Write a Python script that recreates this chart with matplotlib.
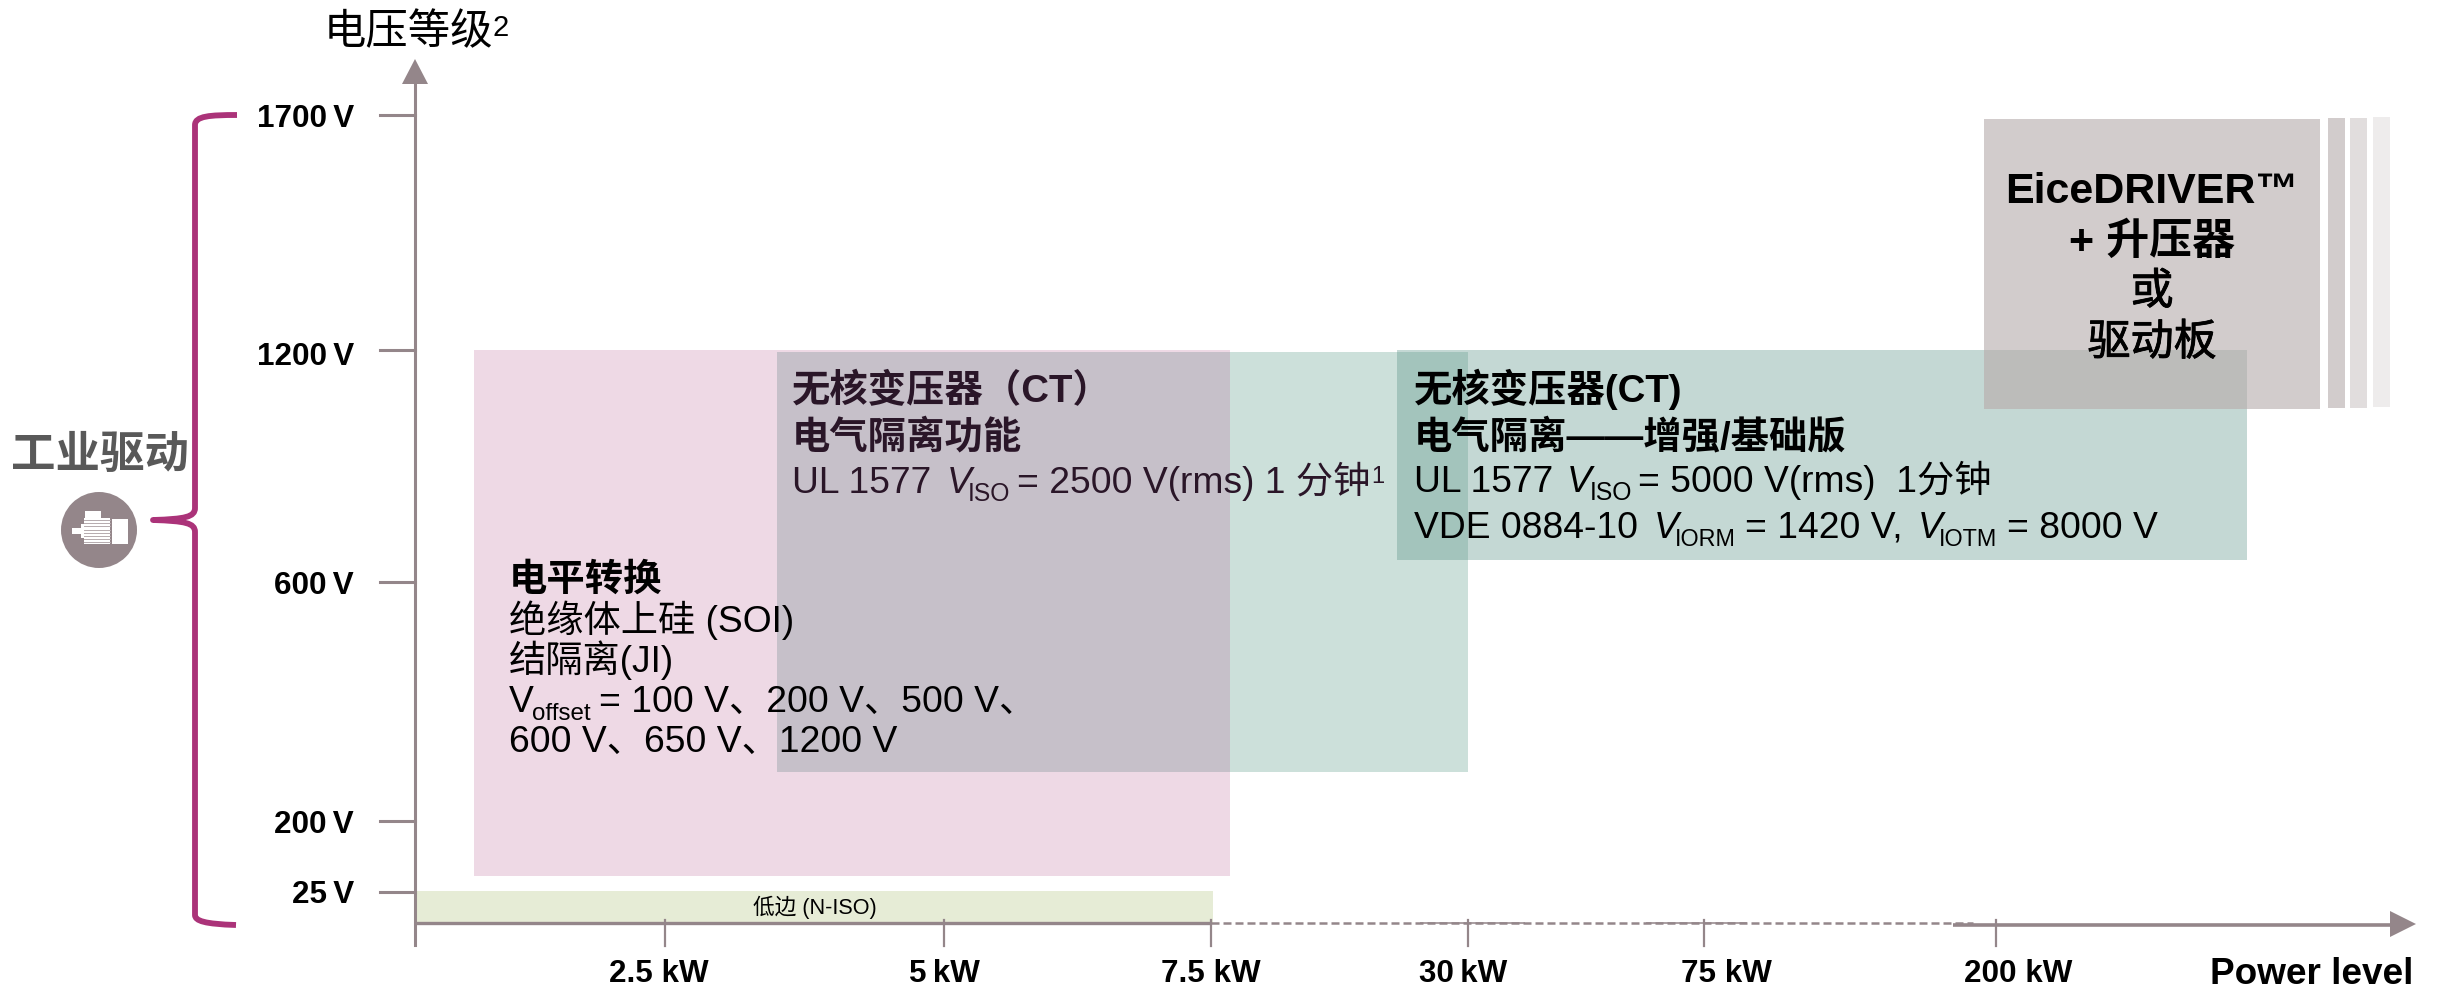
import numpy as np
import matplotlib
matplotlib.use("Agg")
import matplotlib.pyplot as plt
import matplotlib.patheffects as pe
from matplotlib.patches import Rectangle, Polygon, Circle, PathPatch
from matplotlib.path import Path
from matplotlib.transforms import Affine2D, blended_transform_factory

W, H = 2440, 990
LATIN_CJK = ["Liberation Sans", "Noto Sans CJK SC"]
plt.rcParams["font.family"] = LATIN_CJK

# Axis ticks
power_ticks = [2.5, 5, 7.5, 30, 75, 200]
power_labels = ["2.5 kW", "5\u2009kW", "7.5 kW", "30\u2009kW", "75 kW", "200 kW"]
power_label_px = [659, 944, 1211, 1463, 1726, 2018]
voltage_ticks = [25, 200, 600, 1200, 1700]
voltage_labels = ["25\u2009V", "200\u2009V", "600\u2009V", "1200\u2009V", "1700\u2009V"]

# Technology regions: (kW from, kW to, V from, V to)
level_shift = (0.59, 9.16, 64, 1200)
coreless_functional = (3.5, 30, 282, 1196)
coreless_reinforced = (23.8, 350, 657, 1200)
booster = (195, 393.3, 1047, 1691.5)
low_side = (0, 7.7, 0, 27)
booster_stripes = [(398.1, 408.2, 1050, 1694), (411.2, 421.3, 1050, 1694), (424.9, 435.1, 1053, 1696)]

# Piecewise axis scales: the kW and V ranges are not spaced evenly on the page
x_kw = [-4.15, 0, 2.5, 5, 7.5, 30, 75, 200, 450, 465]
x_px = [0, 415, 665, 944, 1211, 1468, 1704, 1996, 2415, 2440]
y_v = [-54, 0, 25, 200, 600, 1200, 1700, 1945]
y_px = [990, 923, 892, 821, 582, 350, 115, 0]


def extrap(values, xs, ys):
    return np.interp(values, xs, ys)


fig = plt.figure(figsize=(W / 100, H / 100), dpi=100, facecolor="white")
ax = fig.add_axes([0, 0, 1, 1])
ax.set_xscale("function", functions=(
    lambda v: extrap(v, x_kw, x_px),
    lambda p: extrap(p, x_px, x_kw)))
ax.set_yscale("function", functions=(
    lambda v: extrap(v, y_v, H - np.array(y_px)),
    lambda p: extrap(p, H - np.array(y_px), y_v)))
ax.set_xlim(x_kw[0], x_kw[-1])
ax.set_ylim(y_v[0], y_v[-1])
ax.axis("off")

# Page coordinates, y running downwards
page = Affine2D().scale(1, -1).translate(0, H)
px_y = blended_transform_factory(page, ax.transData)
x_px_t = blended_transform_factory(ax.transData, page)

AXIS = "#94868a"
DARK = "#2a1628"
BODY = 26.8
SUB = 17.8


def region(box, color, z=1):
    ax.add_patch(Rectangle((box[0], box[2]), box[1] - box[0], box[3] - box[2],
                           facecolor=color, edgecolor="none", zorder=z))


def overlap(a, b, color, z=2):
    region((max(a[0], b[0]), min(a[1], b[1]), max(a[2], b[2]), min(a[3], b[3])), color, z)


def label(x, y, s, size=BODY, color="black", weight="normal", style="normal", ha="left", z=10,
          heavier=0):
    t = ax.text(x, y, s, transform=page, fontsize=size, color=color, fontweight=weight,
                fontstyle=style, ha=ha, va="baseline", zorder=z, family=LATIN_CJK)
    if heavier:
        t.set_path_effects([pe.withStroke(linewidth=heavier, foreground=color)])
    return t


# Regions and the darker tones where they overlap
region(level_shift, "#eed9e5")
region(coreless_functional, "#cce0da")
region(coreless_reinforced, "#c4d8d4", 1.5)
region(booster, "#d2cccc", 1.2)
overlap(level_shift, coreless_functional, "#c6c0c9")
overlap(coreless_functional, coreless_reinforced, "#a3c4bc")
overlap(booster, coreless_reinforced, "#bcbcba")
region(low_side, "#e6ecd6")
for (x0, x1, y0, y1), tone in zip(booster_stripes, ["#d2cccc", "#e1dddd", "#eeecec"]):
    region((x0, x1, y0, y1), tone)

# Voltage axis
ax.add_line(plt.Line2D([415, 415], [84, 945], transform=page, color=AXIS, lw=2.2, zorder=3))
ax.add_patch(Polygon([(402, 84), (428, 84), (415, 59)], transform=page, facecolor=AXIS,
                     edgecolor="none", zorder=3))
for v in voltage_ticks:
    ax.plot([380, 415], [v, v], transform=px_y, color=AXIS, lw=2.2, zorder=3)
baselines = [903, 833, 594, 365, 127]
for text, base in zip(voltage_labels, baselines):
    label(354, base, text, size=22.6, weight="bold", ha="right")

# Power axis: solid start, dashed middle, solid arrow end
ax.plot([0, 7.5], [0, 0], color=AXIS, lw=2.4, zorder=3, solid_capstyle="butt")
ax.plot([7.5, 190], [0, 0], color=AXIS, lw=1.8, ls=(0, (3.2, 1.6)), zorder=3)
ax.add_line(plt.Line2D([1421, 1524], [923, 923], transform=page, color=AXIS, lw=1.4, alpha=0.8, zorder=3))
ax.add_line(plt.Line2D([1647, 1746], [923, 923], transform=page, color=AXIS, lw=1.4, alpha=0.8, zorder=3))
ax.add_line(plt.Line2D([1953, 2392], [925, 925], transform=page, color=AXIS, lw=2.6, zorder=3,
                       solid_capstyle="butt"))
ax.add_patch(Polygon([(2390, 911), (2390, 937), (2416, 924)], transform=page, facecolor=AXIS,
                     edgecolor="none", zorder=3))
for kw in power_ticks:
    ax.plot([kw, kw], [920, 946], transform=x_px_t, color=AXIS, lw=1.6, zorder=3)
for text, x in zip(power_labels, power_label_px):
    label(x, 982, text, size=22.6, weight="bold", ha="center")
label(2210, 984, "Power level", size=26.6, weight="bold")

# Voltage axis title
label(324, 44, "电压等级", size=30.5)
label(493, 36, "2", size=21)

# Left-hand application brace
brace = Path(
    [(237, 115), (210, 115), (195, 116), (195, 125), (195, 508), (195, 517), (185, 519), (153, 520),
     (185, 521), (195, 523), (195, 532), (195, 915), (195, 921), (205, 924), (236, 925)],
    [Path.MOVETO, Path.CURVE4, Path.CURVE4, Path.CURVE4, Path.LINETO, Path.CURVE4, Path.CURVE4, Path.CURVE4,
     Path.CURVE4, Path.CURVE4, Path.CURVE4, Path.LINETO, Path.CURVE4, Path.CURVE4, Path.CURVE4])
ax.add_patch(PathPatch(brace, transform=page, facecolor="none", edgecolor="#ab3379", lw=4.2,
                       capstyle="butt", joinstyle="round", zorder=4))

label(11, 468, "工业驱动", size=32, color="#595959", weight="bold")

# Motor icon
ax.add_patch(Circle((99, 530), 38, transform=page, facecolor=AXIS, edgecolor="none", zorder=4))
for x0, y0, x1, y1 in [(72, 528, 84, 534), (81, 524, 84, 538), (85, 511, 101, 518),
                       (84, 518, 110, 544), (112, 519, 128, 544)]:
    ax.add_patch(Rectangle((x0, y0), x1 - x0, y1 - y0, transform=page, facecolor="white",
                           edgecolor="none", zorder=5))
for y in np.arange(520, 544, 3.2):
    ax.add_line(plt.Line2D([84, 110], [y, y], transform=page, color="#b5abae", lw=0.7, zorder=6))

# Level-shift block
label(509, 591, "电平转换", size=27.6, weight="bold")
label(509, 632, "绝缘体上硅 (SOI)")
label(509, 672, "结隔离(JI)")
label(509, 712, "V")
label(532, 720, "offset", size=17.4)
label(599, 712, "= 100 V、200 V、500 V、")
label(509, 752, "600 V、650 V、1200 V")

# Functional isolation block
label(792, 402, "无核变压器（CT）", size=27.6, weight="bold", color=DARK)
label(792, 448, "电气隔离功能", size=27.6, weight="bold", color=DARK)
label(792, 493, "UL 1577", color=DARK)
label(947, 493, "V", style="italic", color=DARK)
label(968, 501, "ISO", size=SUB, color=DARK)
label(1017, 493, "= 2500 V(rms) 1 分钟", color=DARK)
label(1371, 483, "1", size=17, color=DARK)

# Reinforced isolation block
label(1414, 402, "无核变压器(CT)", size=27.6, weight="bold")
label(1414, 448, "电气隔离——增强/基础版", size=27.6, weight="bold")
label(1414, 492, "UL 1577")
label(1567, 492, "V", style="italic")
label(1590, 500, "ISO", size=SUB)
label(1638, 492, "= 5000 V(rms)  1分钟")
label(1414, 538, "VDE 0884-10")
label(1654, 538, "V", style="italic")
label(1675, 546, "IORM", size=16.8)
label(1745, 538, "= 1420 V,")
label(1918, 538, "V", style="italic")
label(1939, 546, "IOTM", size=16.8)
label(2007, 538, "= 8000 V")

# Gate driver block
label(2152, 203, "EiceDRIVER™", size=31, weight="bold", ha="center")
label(2152, 254, "+ 升压器", size=31, weight="bold", ha="center")
label(2152, 304, "或", size=31, ha="center", heavier=0.6)
label(2152, 355, "驱动板", size=31, ha="center", heavier=0.6)

# Low-side strip
label(815, 914, "低边 (N-ISO)", size=15.6, ha="center")

fig.savefig("out.png", dpi=100, facecolor="white")
